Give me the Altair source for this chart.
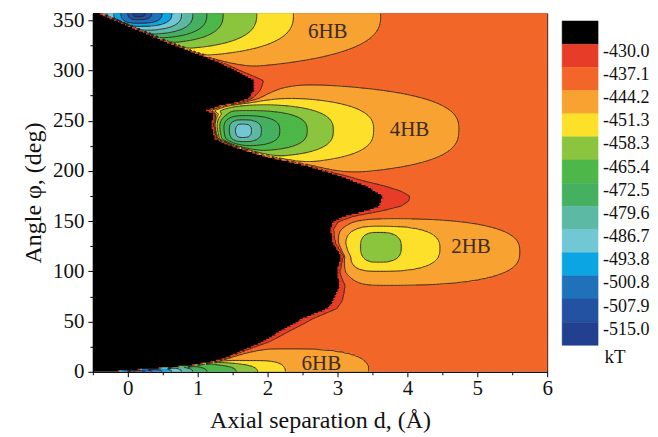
import numpy as np
import pandas as pd
import altair as alt

# ------------------------------------------------------------------ values
D_RANGE = [-0.5, 6.0]
PHI_RANGE = [0.0, 357.0]
X_TICK_VALUES = [-0.5, 0.0, 0.5, 1.0, 1.5, 2.0, 2.5, 3.0, 3.5, 4.0, 4.5, 5.0, 5.5, 6.0]
Y_TICK_VALUES = [0, 25, 50, 75, 100, 125, 150, 175, 200, 225, 250, 275, 300, 325, 350]

# contour levels (kT) and band colours, lowest band first, black above -430
LEVELS = [-515.0, -507.9, -500.8, -493.8, -486.7, -479.6, -472.5,
          -465.4, -458.3, -451.3, -444.2, -437.1, -430.0]
COLORS = ["#22408f", "#2452a3", "#1f72ba", "#0aa5e2", "#72c7d4", "#5cb9a3", "#45b05f",
          "#4db749", "#8bc53f", "#fde02a", "#f8a232", "#f26729", "#e73c28", "#000000"]

BASE = -440.0          # plateau value far from the helices
BLACK_VALUE = -425.0   # repulsive (black) region
RIM_VALUE = -433.5     # thin red rim around the black region

# right edge of the black region: angle (deg) -> d (A)
WALL_PHI = [0, 3, 6, 10, 13, 20, 30, 40, 53, 63, 70, 86, 99, 115, 129, 142, 149, 155, 160,
            165, 175, 185, 195, 205, 215, 225, 232, 245, 257, 260, 265, 268, 272, 280, 290,
            294, 308, 328, 357]
WALL_D = [-0.3, 0.3, 0.85, 1.2, 1.36, 1.6, 1.93, 2.17, 2.5, 2.85, 2.93, 3.03, 2.99, 3.05,
          2.93, 2.9, 2.93, 3.1, 3.4, 3.6, 3.64, 3.41, 3.03, 2.56, 1.93, 1.46, 1.24, 1.2,
          1.22, 1.12, 1.3, 1.55, 1.72, 1.8, 1.81, 1.7, 1.31, 0.56, -0.43]
# thickness of the coloured rim along the black region
RIM_PHI = [0, 15, 30, 50, 75, 100, 120, 140, 150, 160, 170, 180, 190, 200, 215, 230, 250,
           262, 275, 290, 300, 315, 335, 357]
RIM_W = [0.02, 0.05, 0.1, 0.13, 0.12, 0.07, 0.05, 0.05, 0.1, 0.25, 0.4, 0.38, 0.18, 0.08,
         0.05, 0.06, 0.06, 0.1, 0.17, 0.18, 0.1, 0.02, 0.015, 0.015]
RIM_MIN = 0.035

# energy wells: minimum, centre and, for each contour level, its half-extents
# to the right / left in d and in angle, plus an offset of that contour's centre
SHAPE_P = 2.7
WELL_EMIN = [-518.0, -518.0, -490.0, -462.0]
WELL_DC = [0.15, 0.15, 1.64, 3.58]
WELL_PC = [357.0, 0.0, 240.0, 124.0]
WELL_LEVELS = [
    [-515.0, -507.9, -500.8, -493.8, -486.7, -479.6, -472.5, -465.4, -458.3, -451.3, -444.2],
    [-515.0, -507.9, -500.8, -493.8, -486.7, -479.6, -472.5, -465.4, -458.3, -451.3, -444.2],
    [-486.7, -479.6, -472.5, -465.4, -458.3, -451.3, -444.2],
    [-458.3, -451.3, -444.2],
]
WELL_A_RIGHT = [
    [0.10, 0.19, 0.34, 0.48, 0.62, 0.78, 0.98, 1.21, 1.69, 2.21, 3.45],
    [0.10, 0.19, 0.34, 0.48, 0.62, 0.78, 0.98, 1.10, 1.10, 0.40, 1.20],
    [0.13, 0.27, 0.53, 0.92, 1.29, 1.86, 3.07],
    [0.33, 0.88, 2.02],
]
WELL_A_LEFT = [
    [0.08, 0.15, 0.25, 0.35, 0.45, 0.55, 0.65, 0.75, 0.90, 1.10, 1.40],
    [0.08, 0.15, 0.25, 0.35, 0.45, 0.55, 0.65, 0.95, 1.25, 2.30, 2.80],
    [0.10, 0.20, 0.30, 0.40, 0.50, 0.60, 0.80],
    [0.25, 0.48, 0.65],
]
WELL_B = [
    [3.5, 6.5, 10.0, 13.0, 17.0, 21.0, 25.0, 30.0, 36.0, 43.0, 52.0],
    [1.5, 2.5, 3.5, 4.5, 5.5, 6.5, 7.5, 9.0, 10.0, 11.0, 23.0],
    [7.0, 11.0, 15.0, 20.0, 26.0, 33.0, 44.0],
    [15.0, 22.5, 33.0],
]
WELL_D_SHIFT = [
    [0.0] * 11,
    [0.0, 0.0, 0.0, 0.0, 0.0, 0.0, 0.0, 0.3, 0.6, 1.7, 2.1],
    [0.0] * 7,
    [0.0, 0.0, 0.0],
]
WELL_P_SHIFT = [
    [0.0] * 11,
    [0.0] * 11,
    [0.0] * 7,
    [0.0, -1.5, -5.0],
]

LABEL_TEXT = ["6HB", "4HB", "2HB", "6HB"]
LABEL_D = [2.86, 4.03, 4.91, 2.77]
LABEL_PHI = [338.0, 241.0, 124.0, 8.0]

LEGEND_TEXT = ["-430.0", "-437.1", "-444.2", "-451.3", "-458.3", "-465.4", "-472.5",
               "-479.6", "-486.7", "-493.8", "-500.8", "-507.9", "-515.0"]
LEGEND_UNIT = "kT"


# ------------------------------------------------------------------ field built from the readings
def well_energy(k, d, phi):
    lev = np.array(WELL_LEVELS[k])
    K = len(lev)
    T = []
    for m in range(K):
        dd = d - (WELL_DC[k] + WELL_D_SHIFT[k][m])
        dp = phi - (WELL_PC[k] + WELL_P_SHIFT[k][m])
        a = np.where(dd > 0, WELL_A_RIGHT[k][m], WELL_A_LEFT[k][m])
        T.append((np.abs(dd / a) ** SHAPE_P + np.abs(dp / WELL_B[k][m]) ** SHAPE_P) ** (1.0 / SHAPE_P))
    T = np.array(T)
    n_out = (T >= 1.0).sum(axis=0)
    inner = WELL_EMIN[k] + (lev[0] - WELL_EMIN[k]) * T[0] ** 2
    outer = BASE + (lev[-1] - BASE) / np.maximum(T[-1], 1.0) ** 4
    km = np.clip(n_out, 1, K - 1)
    t_in = np.take_along_axis(T, (km - 1)[None], axis=0)[0]
    t_out = np.take_along_axis(T, km[None], axis=0)[0]
    f = np.clip((t_in - 1.0) / np.maximum(t_in - t_out, 1e-9), 0, 1)
    between = lev[km - 1] + f * (lev[km] - lev[km - 1])
    return np.where(n_out == 0, inner, np.where(n_out >= K, outer, between))


def free_energy(d, phi):
    d, phi = np.broadcast_arrays(d, phi)
    e = np.full(d.shape, BASE)
    for k in range(len(WELL_EMIN)):
        e = e - (BASE - well_energy(k, d, phi))
    return e


def energy(d, phi):
    db = np.interp(phi, WALL_PHI, WALL_D)
    w = np.interp(phi, RIM_PHI, RIM_W)
    e_free = free_energy(d, phi)
    e_edge = free_energy(db, phi)
    rise = LEVELS[-1] - e_edge
    x = d - db
    e = e_free + rise * np.exp(-np.clip(x, 0, None) / w)
    e = np.where(x < RIM_MIN, np.maximum(e, RIM_VALUE), e)
    black = x < 0
    return np.where(black, BLACK_VALUE, e), black


DD, DP = 0.02, 1.5
nd = int(round((D_RANGE[1] - D_RANGE[0]) / DD))
npf = int(round((PHI_RANGE[1] - PHI_RANGE[0]) / DP))
xs = D_RANGE[0] + DD * np.arange(nd + 1)
ys = PHI_RANGE[0] + DP * np.arange(npf + 1)

# filled bands: cell centres, merged into horizontal runs; each run reaches over the
# start of the next one (drawn afterwards) so that no seams show
XC, YC = np.meshgrid(0.5 * (xs[:-1] + xs[1:]), 0.5 * (ys[:-1] + ys[1:]))
Ec, _ = energy(XC, YC)
cls = np.digitize(Ec, LEVELS)
edges = [LEVELS[0] - 6.0] + LEVELS + [LEVELS[-1] + 6.0]
REP = [0.5 * (edges[k] + edges[k + 1]) for k in range(len(COLORS))]
rect_rows = []
for j in range(npf):
    c = cls[j]
    starts = np.r_[0, np.nonzero(np.diff(c))[0] + 1]
    ends = np.r_[starts[1:], nd]
    for s, e in zip(starts, ends):
        rect_rows.append({"d0": round(float(xs[s]), 4), "d1": round(float(xs[e]) + 1.1 * DD, 4),
                          "p0": round(float(ys[j]), 3), "p1": round(float(ys[j + 1]) + 1.1 * DP, 3),
                          "E": REP[int(c[s])]})
fill_df = pd.DataFrame(rect_rows)

# contour lines: marching squares on the node grid, chained into polylines
XN, YN = np.meshgrid(xs, ys)
En, blk = energy(XN, YN)


def iso_segments(level):
    A = En > level
    a00, a01, a11, a10 = A[:-1, :-1], A[:-1, 1:], A[1:, 1:], A[1:, :-1]
    bad = blk[:-1, :-1] | blk[:-1, 1:] | blk[1:, 1:] | blk[1:, :-1]
    code = a00.astype(int) + 2 * a01 + 4 * a11 + 8 * a10
    js, iis = np.nonzero((code > 0) & (code < 15) & ~bad)
    segs = []
    for j, i in zip(js, iis):
        e00, e01, e11, e10 = En[j, i], En[j, i + 1], En[j + 1, i + 1], En[j + 1, i]
        p = {}
        if a00[j, i] != a01[j, i]:
            t = (level - e00) / (e01 - e00)
            p["b"] = ((0, j, i), (xs[i] + t * DD, ys[j]))
        if a01[j, i] != a11[j, i]:
            t = (level - e01) / (e11 - e01)
            p["r"] = ((1, j, i + 1), (xs[i + 1], ys[j] + t * DP))
        if a10[j, i] != a11[j, i]:
            t = (level - e10) / (e11 - e10)
            p["t"] = ((0, j + 1, i), (xs[i] + t * DD, ys[j + 1]))
        if a00[j, i] != a10[j, i]:
            t = (level - e00) / (e10 - e00)
            p["l"] = ((1, j, i), (xs[i], ys[j] + t * DP))
        if len(p) == 2:
            v = list(p.values())
            segs.append((v[0], v[1]))
        elif len(p) == 4:
            centre = (e00 + e01 + e11 + e10) / 4.0 > level
            if centre == a00[j, i]:
                segs += [(p["b"], p["r"]), (p["t"], p["l"])]
            else:
                segs += [(p["b"], p["l"]), (p["t"], p["r"])]
    return segs


line_rows = []
lid = 0
for level in LEVELS[:-1]:
    segs = iso_segments(level)
    adj, pos = {}, {}
    for (k1, q1), (k2, q2) in segs:
        adj.setdefault(k1, []).append(k2)
        adj.setdefault(k2, []).append(k1)
        pos[k1], pos[k2] = q1, q2
    used = set()

    def walk(start):
        path, cur = [start], start
        while True:
            nxt = None
            for n in adj[cur]:
                if (cur, n) not in used:
                    nxt = n
                    break
            if nxt is None:
                return path
            used.add((cur, nxt))
            used.add((nxt, cur))
            path.append(nxt)
            cur = nxt

    order = [k for k in adj if len(adj[k]) == 1] + list(adj.keys())
    for k in order:
        if any((k, n) not in used for n in adj[k]):
            path = walk(k)
            if len(path) > 2:
                for o, key in enumerate(path):
                    line_rows.append({"lid": lid, "o": o, "d": round(float(pos[key][0]), 4),
                                      "p": round(float(pos[key][1]), 3)})
                lid += 1
line_df = pd.DataFrame(line_rows)

label_df = pd.DataFrame({"t": LABEL_TEXT, "d": LABEL_D, "p": LABEL_PHI})

# ------------------------------------------------------------------ chart
FONT = "Liberation Serif"
color_scale = alt.Scale(type="threshold", domain=LEVELS, range=COLORS)
x_scale = alt.Scale(domain=D_RANGE, nice=False, zero=False)
y_scale = alt.Scale(domain=PHI_RANGE, nice=False, zero=False)

x_axis = alt.Axis(values=X_TICK_VALUES, title="Axial separation d, (Å)",
                  labelExpr="indexof([0,1,2,3,4,5,6], datum.value) >= 0 ? '' + datum.value : ''",
                  tickSize={"condition": {"test": "indexof([0,1,2,3,4,5,6], datum.value) >= 0",
                                          "value": 5}, "value": 3},
                  labelFlush=False, labelOverlap=False, grid=False,
                  labelPadding=1, titlePadding=10)
y_axis = alt.Axis(values=Y_TICK_VALUES, title="Angle φ, (deg)",
                  labelExpr="datum.value % 50 === 0 ? datum.label : ''",
                  tickSize={"condition": {"test": "datum.value % 50 === 0", "value": 5}, "value": 3},
                  labelFlush=False, labelOverlap=False, grid=False, labelPadding=4,
                  titlePadding=7)

fill = alt.Chart(fill_df).mark_rect(clip=True).encode(
    x=alt.X("d0:Q", scale=x_scale, axis=x_axis),
    x2="d1:Q",
    y=alt.Y("p0:Q", scale=y_scale, axis=y_axis),
    y2="p1:Q",
    color=alt.Color("E:Q", scale=color_scale, legend=None),
)
lines = alt.Chart(line_df).mark_line(color="#2e2218", strokeWidth=0.9, clip=True).encode(
    x=alt.X("d:Q", scale=x_scale, axis=x_axis), y=alt.Y("p:Q", scale=y_scale, axis=y_axis),
    detail="lid:N", order="o:Q")
labels = alt.Chart(label_df).mark_text(font=FONT, fontSize=21, color="#3a2c1e").encode(
    x=alt.X("d:Q", scale=x_scale, axis=x_axis), y=alt.Y("p:Q", scale=y_scale, axis=y_axis),
    text="t:N")

main = alt.layer(fill, lines, labels).properties(
    width=455, height=359, view=alt.ViewBackground(stroke="#000", strokeWidth=1))

# colour bar
blk_df = pd.DataFrame({"i0": list(range(len(COLORS))), "i1": list(range(1, len(COLORS) + 1)),
                       "lx0": [0.0] * len(COLORS), "lx1": [1.0] * len(COLORS),
                       "E": REP[::-1]})
leg_lab_df = pd.DataFrame({"v": [k + 1.33 for k in range(len(LEGEND_TEXT))],
                           "lx": [1.0] * len(LEGEND_TEXT), "txt": LEGEND_TEXT})
unit_df = pd.DataFrame({"v": [14.5], "lx": [1.0], "txt": [LEGEND_UNIT]})
leg_x = alt.Scale(domain=[0, 1], nice=False, zero=False)
leg_y = alt.Scale(domain=[-0.332, 15.14], nice=False, zero=False, reverse=True)

bar = alt.Chart(blk_df).mark_rect(strokeWidth=0.5).encode(
    x=alt.X("lx0:Q", scale=leg_x, axis=None), x2="lx1:Q",
    y=alt.Y("i0:Q", scale=leg_y, axis=None), y2="i1:Q",
    color=alt.Color("E:Q", scale=color_scale, legend=None),
    stroke=alt.Stroke("E:Q", scale=color_scale, legend=None),
)
bar_text = alt.Chart(leg_lab_df).mark_text(font=FONT, fontSize=18, align="left",
                                            baseline="middle", dx=5, color="#111").encode(
    x=alt.X("lx:Q", scale=leg_x, axis=None), y=alt.Y("v:Q", scale=leg_y, axis=None), text="txt:N")
unit_text = alt.Chart(unit_df).mark_text(font=FONT, fontSize=19, align="center",
                                          baseline="middle", dx=17, color="#111").encode(
    x=alt.X("lx:Q", scale=leg_x, axis=None), y=alt.Y("v:Q", scale=leg_y, axis=None), text="txt:N")
legend = alt.layer(bar, bar_text, unit_text).properties(
    width=36, height=359, view=alt.ViewBackground(stroke="transparent"))

chart = alt.hconcat(main, legend, spacing=8).resolve_scale(
    x="independent", y="independent"
).properties(
    padding={"left": 13, "top": 0, "right": 0, "bottom": 0}
).configure_view(stroke="transparent").configure_axis(
    labelFont=FONT, titleFont=FONT, labelFontSize=21, titleFontSize=24,
    titleFontWeight="normal", labelColor="#111", titleColor="#111",
    domainColor="#000", tickColor="#000", domainWidth=1, tickWidth=1,
)

chart.save("out.html", embed_options={"renderer": "svg", "actions": False})
